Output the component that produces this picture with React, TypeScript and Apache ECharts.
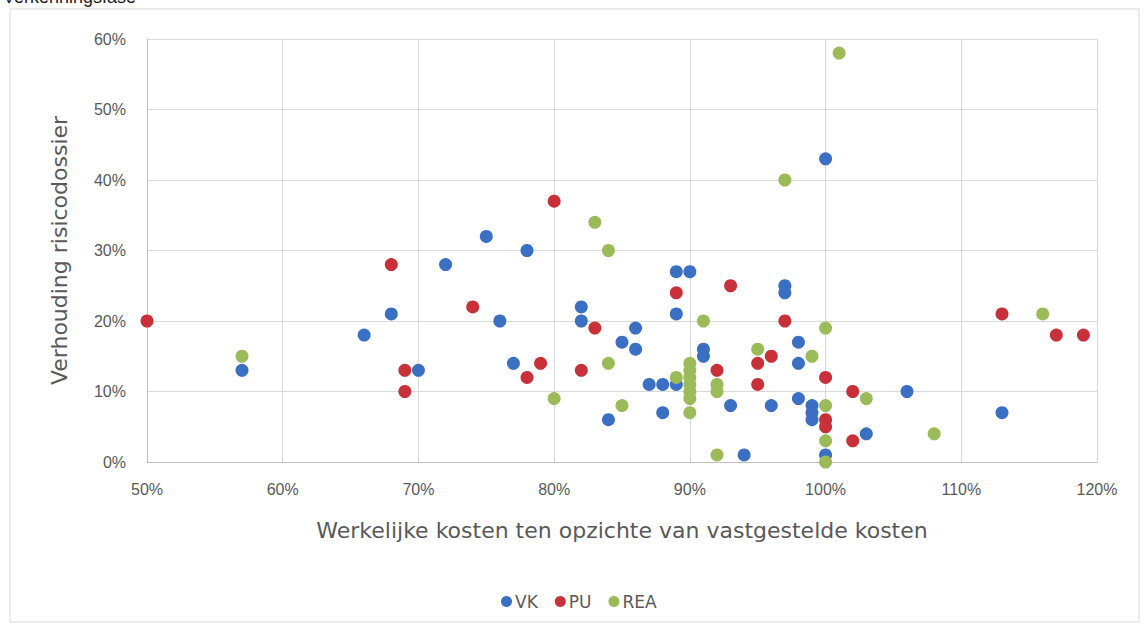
import React, { useEffect, useRef } from "react";
import * as echarts from "echarts";

const title = "Verkenningsfase";
const xAxisName = "Werkelijke kosten ten opzichte van vastgestelde kosten";
const yAxisName = "Verhouding risicodossier";
const seriesNames = ["VK", "PU", "REA"];

const vkX = [57, 66, 68, 70, 72, 75, 76, 77, 78, 82, 82, 84, 85, 86, 86, 87, 88, 89, 88, 89, 90, 89, 91, 91, 93, 94, 96, 97, 97, 98, 98, 98, 99, 99, 99, 100, 100, 103, 106, 113];
const vkY = [13, 18, 21, 13, 28, 32, 20, 14, 30, 22, 20, 6, 17, 19, 16, 11, 11, 11, 7, 27, 27, 21, 16, 15, 8, 1, 8, 25, 24, 17, 14, 9, 8, 7, 6, 43, 1, 4, 10, 7];

const puX = [50, 68, 69, 69, 74, 78, 79, 80, 82, 83, 89, 92, 93, 95, 95, 96, 97, 100, 100, 100, 102, 102, 113, 117, 119];
const puY = [20, 28, 13, 10, 22, 12, 14, 37, 13, 19, 24, 13, 25, 14, 11, 15, 20, 12, 6, 5, 10, 3, 21, 18, 18];

const reaX = [57, 80, 83, 84, 84, 85, 89, 90, 90, 90, 90, 90, 90, 90, 91, 92, 92, 92, 95, 97, 99, 100, 100, 100, 100, 101, 103, 108, 116];
const reaY = [15, 9, 34, 30, 14, 8, 12, 14, 13, 12, 11, 10, 9, 7, 20, 11, 10, 1, 16, 40, 15, 19, 8, 3, 0, 58, 9, 4, 21];

const colors = ["#3a6fc4", "#c8313a", "#9bbb59"];

const zip = (xs: number[], ys: number[]) => xs.map((x, i) => [x, ys[i]]);

export default function App() {
  const ref = useRef<HTMLDivElement>(null);
  useEffect(() => {
    if (!ref.current) return;
    const chart = echarts.init(ref.current, null, { renderer: "svg" });
    const font = "'Liberation Sans', Arial, sans-serif";
    const wide = "'DejaVu Sans', 'Liberation Sans', sans-serif";
    const dataSets = [zip(vkX, vkY), zip(puX, puY), zip(reaX, reaY)];
    chart.setOption({
      animation: false,
      backgroundColor: "#ffffff",
      textStyle: { fontFamily: font },
      grid: { left: 147, right: 49, top: 39, bottom: 165 },
      graphic: [
        {
          type: "rect",
          shape: { x: 10, y: 9, width: 1129, height: 613 },
          style: { fill: "none", stroke: "#d9d9d9", lineWidth: 1 },
          silent: true,
        },
        {
          type: "text",
          x: 3,
          y: 6,
          style: {
            text: title,
            fontSize: 18,
            fontFamily: font,
            fill: "#222",
            textVerticalAlign: "bottom",
          },
        },
      ],
      legend: {
        left: 496,
        top: 588,
        itemWidth: 11,
        itemHeight: 11,
        itemGap: 17,
        icon: "circle",
        textStyle: { fontSize: 17, color: "#595959", fontFamily: wide, padding: [0, 0, 0, -2] },
        data: seriesNames,
      },
      xAxis: {
        type: "value",
        min: 50,
        max: 120,
        interval: 10,
        name: xAxisName,
        nameLocation: "middle",
        nameGap: 57,
        nameTextStyle: { fontSize: 22, color: "#595959", fontFamily: wide },
        axisLine: { show: true, lineStyle: { color: "#bfbfbf" } },
        axisTick: { show: false },
        axisLabel: { formatter: "{value}%", fontSize: 16, color: "#595959", margin: 19 },
        splitLine: { show: true, lineStyle: { color: "#d9d9d9" } },
      },
      yAxis: {
        type: "value",
        min: 0,
        max: 60,
        interval: 10,
        name: yAxisName,
        nameLocation: "middle",
        nameGap: 77,
        nameTextStyle: { fontSize: 22, color: "#595959", fontFamily: wide },
        axisLine: { show: true, lineStyle: { color: "#bfbfbf" } },
        axisTick: { show: false },
        axisLabel: { formatter: "{value}%", fontSize: 16, color: "#595959", margin: 21 },
        splitLine: { show: true, lineStyle: { color: "#d9d9d9" } },
      },
      series: seriesNames.map((name, i) => ({
        name,
        type: "scatter",
        symbol: "circle",
        symbolSize: 13,
        itemStyle: { color: colors[i], opacity: 1 },
        data: dataSets[i],
      })),
    });
    return () => chart.dispose();
  }, []);
  return (
    <div
      ref={ref}
      style={{ position: "fixed", left: 0, top: 0, width: 1146, height: 627 }}
    />
  );
}
